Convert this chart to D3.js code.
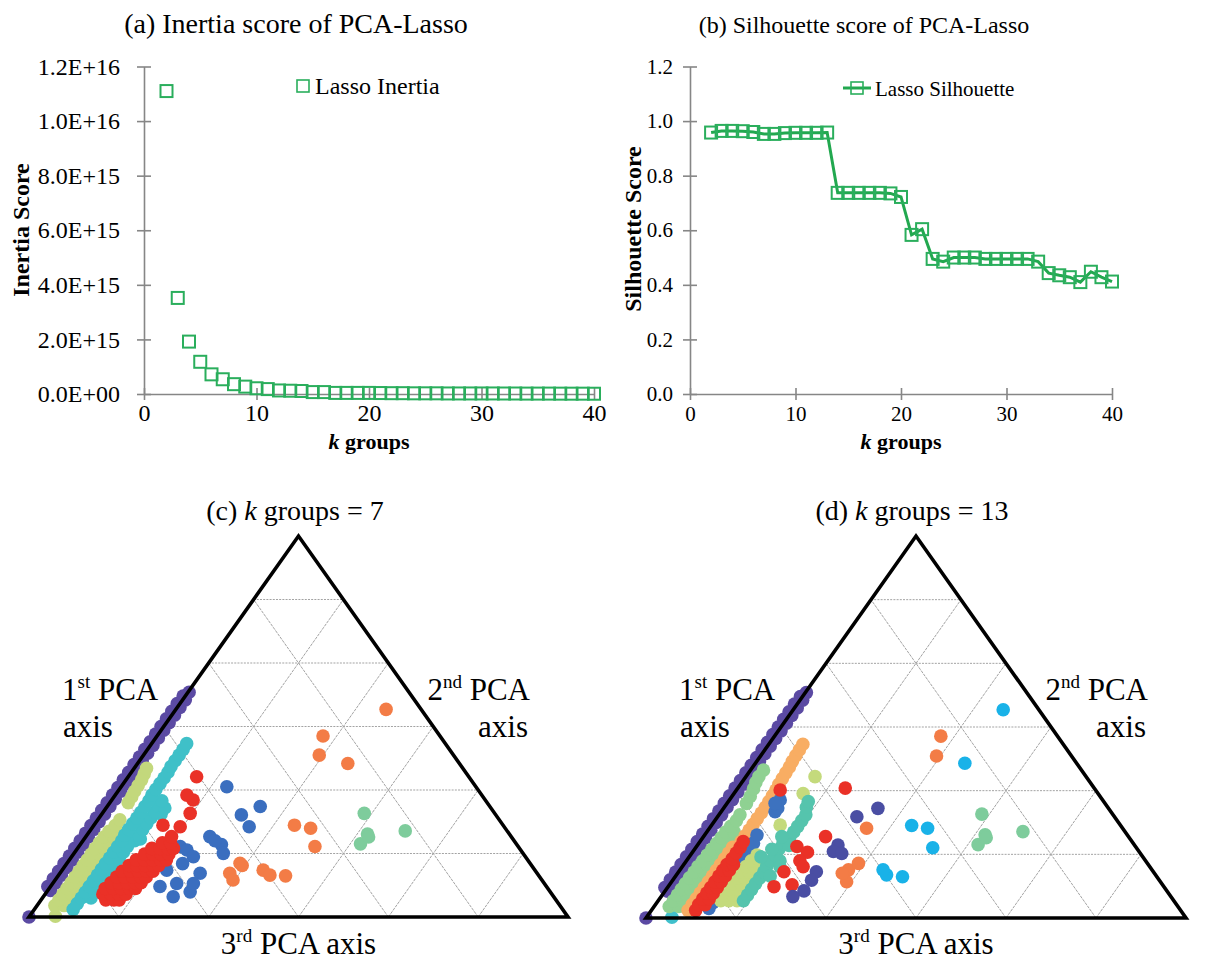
<!DOCTYPE html>
<html>
<head>
<meta charset="utf-8">
<script src="https://cdn.jsdelivr.net/npm/d3@7"></script>
<style>
  body { margin: 0; background: #fff; }
  svg { display: block; }
</style>
</head>
<body>
<svg id="fig" width="1223" height="963"></svg>
<script>
// ---- data: elbow / silhouette curves ----
const kGroups = [2,3,4,5,6,7,8,9,10,11,12,13,14,15,16,17,18,19,20,21,22,23,24,25,26,27,28,29,30,31,32,33,34,35,36,37,38,39,40];
const inertia = [1.11e16,3.52e15,1.92e15,1.18e15,7.2e14,5.4e14,3.6e14,2.7e14,2.1e14,1.8e14,1.3e14,1.2e14,1.1e14,7e13,7e13,4e13,4e13,4e13,4e13,3.5e13,3e13,3e13,2.5e13,2.5e13,2.5e13,2e13,2e13,2e13,2e13,2e13,1.8e13,1.8e13,1.5e13,1.5e13,1.5e13,1.3e13,1.2e13,1.2e13,1e13];
const silhouette = [0.958,0.964,0.964,0.963,0.96,0.953,0.953,0.956,0.957,0.957,0.957,0.958,0.737,0.737,0.737,0.737,0.737,0.735,0.722,0.583,0.604,0.495,0.485,0.5,0.5,0.5,0.495,0.495,0.495,0.495,0.495,0.485,0.443,0.435,0.428,0.41,0.448,0.428,0.412];
const kTicks = [0,10,20,30,40];
const inertiaTicks = [0,2e15,4e15,6e15,8e15,1e16,1.2e16];
const silTicks = [0,0.2,0.4,0.6,0.8,1.0,1.2];

// ---- data: ternary clusters, [3rd-axis %, apex %] (remaining share = 1st axis) ----
const ternaryGrid = [100/6, 200/6, 300/6, 400/6, 500/6];
const edgeCluster = [[0,0],[0.5,7],[-0.5,8],[0.5,9],[-0.5,10],[0.5,11],[-0.5,12],[0.5,13],[-0.5,14],[0.5,15],[-0.5,16],[0.5,17],[-0.5,18],[0.5,19],[-0.5,20],[0.5,21],[-0.5,22],[0.5,23],[-0.5,24],[0.5,25],[-0.5,26],[0.5,27],[-0.5,28],[0.5,29],[-0.5,30],[0.5,31],[-0.5,32],[0.5,33],[-0.5,34],[0.5,35],[-0.5,36],[0.5,37],[-0.5,38],[0.5,39],[-0.5,40],[0.5,41],[-0.5,42],[0.5,43],[-0.5,44],[0.5,45],[-0.5,46],[0.5,47],[-0.5,48],[0.5,49],[-0.5,50],[0.5,51],[-0.5,52],[0.5,53],[-0.5,54],[0.5,55],[-0.5,56],[0.5,57],[-0.4,58],[0.2,59]];

const c7Lime = [[4.8,0.2],[3.3,3],[5.0,3],[3.3,4.5],[5.0,4.5],[3.3,6],[5.0,6],[3.3,7.5],[5.0,7.5],[3.3,9],[5.0,9],[3.3,10.5],[5.0,10.5],[3.3,12],[5.0,12],[3.3,13.5],[5.0,13.5],[3.3,15],[5.0,15],[3.3,16.5],[5.0,16.5],[3.3,18],[5.0,18],[3.3,19.5],[5.0,19.5],[3.4,21],[5.2,21],[3.6,22.5],[5.2,22.5],[4.0,24],[4.1,25.5],[3.4,30],[3.3,31.5],[3.1,33],[3.0,34.5],[2.9,36],[2.6,37.5],[2.3,39]];
const c7Cyan = [[7.2,2],[7.2,3.5],[7.2,5],[9.0,5],[7.2,6.5],[9.0,6.5],[7.2,8],[9.0,8],[7.2,9.5],[9.0,9.5],[7.2,11],[9.0,11],[7.2,12.5],[9.0,12.5],[7.2,14],[9.0,14],[7.2,15.5],[9.0,15.5],[7.2,17],[9.0,17],[7.2,18.5],[9.0,18.5],[7.2,20],[9.6,20],[10.4,20.5],[7.0,21.5],[9.6,21.5],[7.0,23],[9.6,23],[7.0,24.5],[9.6,24.5],[7.0,26],[9.6,26],[11.0,27],[7.0,27.5],[9.6,27.5],[7.0,29],[9.6,29],[10.9,28.6],[7.0,30.5],[9.4,30.5],[6.8,32],[6.8,33.5],[6.8,35],[6.8,36.5],[6.8,38],[6.6,39.5],[6.6,41],[6.6,42.5],[6.6,44],[6.5,45.5]];
const c7Blue = [[19.6,34.2],[28.4,29],[26,26.8],[29,23.7],[23,21.1],[26.2,19],[27.7,16.7],[18.8,18.5],[20.5,17.6],[22.6,15.8],[26,11.5],[23,8.8],[26.6,6.6],[24.1,5.3],[20.3,8],[19.4,12.3],[26.1,8.8],[24.5,20],[21.5,14]];
const c7Red = [[12,4.5],[13.5,4.5],[14.5,4.5],[10.7,6],[12.2,6],[13.7,6],[15,6],[10.4,7.5],[11.9,7.5],[13.4,7.5],[14.9,7.5],[16,7.5],[10.7,9],[12.2,9],[13.7,9],[15.2,9],[16.3,9],[11,10.5],[12.5,10.5],[14,10.5],[15.5,10.5],[16.5,10.5],[11.3,12],[12.8,12],[14.3,12],[15.8,12],[17,12],[11.8,13.5],[13.3,13.5],[14.8,13.5],[16.3,13.5],[17.3,13.5],[12.4,15],[13.9,15],[15.4,15],[16.9,15],[18,15],[13.2,16.5],[14.7,16.5],[16.2,16.5],[17.7,16.5],[13.8,18],[15.3,18],[16.8,18],[17.8,18],[15,19.5],[16.5,19.5],[15.9,21.1],[12.8,24.1],[16.2,23.7],[16.3,27.2],[15.1,30.7],[13.3,32],[12.7,36.8]];
const c7Orange = [[39,54.5],[30.8,47.5],[32.6,42.5],[39,40.3],[37.2,24.1],[40.6,23.3],[43.8,18.5],[42.2,10.8],[31.5,11.5],[32.1,14.1],[33,9.7],[37.3,12.3],[39.2,11],[32.8,13.5]];
const c7Green = [[48.6,27.2],[51.9,21.8],[51.9,19.2],[58.5,22.6],[52.5,21]];

const c13Cyan = [[4.7,0.2],[4.4,3.8]];
const c13Mint = [[2.8,3],[4.6,3],[2.8,4.5],[4.6,4.5],[2.8,6],[4.6,6],[2.8,7.5],[4.6,7.5],[2.8,9],[4.6,9],[2.8,10.5],[4.6,10.5],[2.9,12],[4.7,12],[2.9,13.5],[4.8,13.5],[3.0,15],[4.9,15],[3.1,16.5],[5.0,16.5],[3.2,18],[5.1,18],[3.3,19.5],[5.2,19.5],[3.4,21],[5.2,21],[3.5,22.5],[5.1,22.5],[3.7,24],[4.0,25.5],[3.9,27],[3.6,30],[3.4,31.8],[3.0,33.8],[2.6,35.5],[2.4,37],[2.4,38.7]];
const c13Peach = [[6.8,2],[6.8,3.5],[6.8,5],[6.8,6.5],[6.8,8],[6.8,9.5],[6.8,11],[6.8,12.5],[6.8,14],[6.8,15.5],[6.8,17],[6.8,18.5],[7.6,20],[7.6,21.5],[7.6,23],[7.6,24.5],[7.6,26],[7.6,27.5],[7.6,29],[7.5,30.5],[7.4,32],[7.3,33.5],[7.1,35],[7.0,36.5],[6.9,38],[6.8,39.5],[6.6,41],[6.5,42.5],[6.4,44],[6.3,45.5]];
const c13Blue = [[10.4,2.5],[10.4,4],[10.5,5.5],[10.6,14],[10.6,15.5],[10.7,17],[10.1,19.6],[9.7,21.7],[10,27.8],[10,28.8],[9.4,30.9],[8.9,30]];
const c13Lime = [[11.6,4.5],[13.1,4.5],[14.6,4.5],[11.6,6],[13.1,6],[14.6,6],[11.6,7.5],[13.1,7.5],[14.6,7.5],[11.6,9],[13.1,9],[14.6,9],[11.6,10.5],[13.1,10.5],[14.6,10.5],[11.6,12],[13.1,12],[14.6,12],[11.8,13.5],[13.3,13.5],[12,15],[13.5,15],[12.3,16.5],[12.7,24.3],[12.8,32.6],[12.8,37]];
const c13Teal = [[15.8,4.5],[15.8,6],[15.8,7.5],[15.8,9],[15.8,10.5],[15.8,12],[15.6,13.5],[15.6,15],[15.6,16.5],[15.6,18],[15.6,19.5],[16.1,21],[16.1,22.5],[16.1,24],[16.1,25.5],[16.1,27],[15.2,29],[14.8,30.5],[13.3,16],[17.3,15],[18.1,13.4],[17.5,11],[14.3,18],[17,19],[14.5,21.3]];
const c13Red = [[8.2,2],[8.0,3.5],[9.2,3.5],[8.0,5],[9.2,5],[8.0,6.5],[9.2,6.5],[8.0,8],[9.2,8],[8.0,9.5],[9.2,9.5],[8.0,11],[9.2,11],[8.0,12.5],[9.2,12.5],[8.0,14],[9.2,14],[8.2,15.5],[8.2,17],[8.2,18.5],[8.0,20],[8.1,33.5],[19.9,34],[22.6,21.3],[18.6,18.7],[21.3,17.2],[21,15],[22.4,13.4],[19.5,12.1],[19.6,8.2],[22.7,8.7]];
const c13Navy = [[25.8,26.5],[28.6,28.7],[26,19.1],[26,17.4],[27.8,16.9],[25.5,12.1],[25.7,9.9],[25.7,7.1],[24.4,5.6]];
const c13Orange = [[30.8,47.6],[32.6,42.4],[29.1,23.5],[31.2,12.6],[32.2,14.3],[32.4,9.5],[30.5,11.7]];
const c13Sky = [[38.9,54.5],[38.8,40.5],[37.1,24.2],[40.4,23.5],[43.9,18.4],[38.9,11.3],[42.1,10.8],[37.6,12.6]];
const c13Green = [[48.6,27.2],[51.9,21.8],[51.9,19.2],[58.5,22.6],[52.5,21]];

const SERIF = "'Liberation Serif','Times New Roman',serif";
const AXIS = "#868686";
const GREEN = "#2aae5c";

const svg = d3.select("#fig");
svg.append("rect").attr("width", 1223).attr("height", 963).attr("fill", "#fff");

function sciFormat(v) {
    if (v === 0) return "0.0E+00";
    const parts = d3.format(".1e")(v).split("e");
    const n = +parts[1];
    return parts[0] + "E" + (n < 0 ? "-" : "+") + String(Math.abs(n)).padStart(2, "0");
}

function addText(g, x, y, size, str) {
    return g.append("text").attr("x", x).attr("y", y)
        .attr("font-family", SERIF).attr("font-size", size).attr("fill", "#000").text(str);
}

/*
*   Draws one k-groups panel (axes, marks, legend, labels)
*/
function drawScorePanel(o) {
    const g = svg.append("g");
    const x = d3.scaleLinear().domain([0, 40]).range(o.xRange);
    const y = d3.scaleLinear().domain([0, o.yMax]).range([394, 66.5]);

    const yAxis = g.append("g").attr("transform", `translate(${o.xRange[0]},0)`)
        .call(d3.axisLeft(y).tickValues(o.yTicks).tickFormat(o.yFormat).tickSizeInner(7).tickSizeOuter(0).tickPadding(o.yPad));
    const xAxis = g.append("g").attr("transform", "translate(0,394)")
        .call(d3.axisBottom(x).tickValues(kTicks).tickSizeInner(6).tickSizeOuter(0).tickPadding(o.xPad));

    [yAxis, xAxis].forEach(a => {
        a.select(".domain").attr("stroke", AXIS).attr("stroke-width", 1.6);
        a.selectAll(".tick line").attr("stroke", AXIS).attr("stroke-width", 1.6);
        a.selectAll(".tick text").attr("font-family", SERIF).attr("font-size", o.tickSize).attr("fill", "#000");
    });
    yAxis.selectAll(".tick line").attr("x1", 7);   // ticks cross the axis
    xAxis.selectAll(".tick line").attr("y1", -6);

    const pts = kGroups.map((k, i) => [k, o.values[i]]);

    if (o.line) {
        g.append("path").datum(pts)
            .attr("d", d3.line().x(d => x(d[0])).y(d => y(d[1])))
            .attr("fill", "none").attr("stroke", "#22a84f").attr("stroke-width", 3);
    }
    g.append("g").selectAll("rect").data(pts).join("rect")
        .attr("x", d => x(d[0]) - 6).attr("y", d => y(d[1]) - 6)
        .attr("width", 12).attr("height", 12)
        .attr("fill", "none").attr("stroke", GREEN).attr("stroke-width", 2);

    // legend
    if (o.line) {
        g.append("line").attr("x1", o.legendX - 14).attr("x2", o.legendX + 14)
            .attr("y1", o.legendY).attr("y2", o.legendY)
            .attr("stroke", "#22a84f").attr("stroke-width", 3);
    }
    g.append("rect").attr("x", o.legendX - 6).attr("y", o.legendY - 6).attr("width", 12).attr("height", 12)
        .attr("fill", "none").attr("stroke", GREEN).attr("stroke-width", 1.6);
    addText(g, o.legendTextX, o.legendY + 8, o.tickSize, o.legend);

    // title and axis titles
    addText(g, o.titleX, 33, o.titleSize, o.title).attr("text-anchor", "middle");
    g.append("text")
        .attr("transform", `translate(${o.yLabelX},${o.yLabelY}) rotate(-90)`)
        .attr("text-anchor", "middle").attr("font-family", SERIF).attr("font-size", 24)
        .attr("font-weight", "bold").text(o.yLabel);
    const xl = g.append("text").attr("x", (o.xRange[0] + o.xRange[1]) / 2).attr("y", 449)
        .attr("text-anchor", "middle").attr("font-family", SERIF).attr("font-size", o.xLabelSize).attr("font-weight", "bold");
    xl.append("tspan").attr("font-style", "italic").text("k");
    xl.append("tspan").text(" groups");
}

drawScorePanel({
    xRange: [144, 594], yMax: 1.2e16, yTicks: inertiaTicks, yFormat: sciFormat, yPad: 17, tickSize: 24, xPad: 4,
    values: inertia, line: false,
    legend: "Lasso Inertia", legendX: 303, legendY: 86, legendTextX: 315,
    title: "(a) Inertia score of PCA-Lasso", titleX: 296, titleSize: 28,
    yLabel: "Inertia Score", yLabelX: 29, yLabelY: 230, xLabelSize: 22
});

drawScorePanel({
    xRange: [690, 1112], yMax: 1.2, yTicks: silTicks, yFormat: d3.format(".1f"), yPad: 10, tickSize: 21, xPad: 6,
    values: silhouette, line: true,
    legend: "Lasso Silhouette", legendX: 857, legendY: 88, legendTextX: 875,
    title: "(b) Silhouette score of PCA-Lasso", titleX: 864, titleSize: 24,
    yLabel: "Silhouette Score", yLabelX: 641, yLabelY: 229, xLabelSize: 22
});

/*
*   Ternary panels
*/
function pcaLabel(g, x, y, num, sup, rest, anchor) {
    const t = g.append("text").attr("x", x).attr("y", y).attr("text-anchor", anchor)
        .attr("font-family", SERIF).attr("font-size", 31).attr("fill", "#000");
    t.append("tspan").text(num);
    t.append("tspan").attr("font-size", 19).attr("dy", -12).text(sup);
    t.append("tspan").attr("dy", 12).text(rest);
}

function drawTernary(o) {
    const g = svg.append("g");
    const xs = d3.scaleLinear().domain([0, 100]).range([o.bl[0], o.br[0]]);
    const ys = d3.scaleLinear().domain([0, 100]).range([o.bl[1], o.apexY]);
    const px = d => xs(d[0] + d[1] / 2);
    const py = d => ys(d[1]);

    const seg = (a, b, dash) => g.append("line")
        .attr("x1", px(a)).attr("y1", py(a)).attr("x2", px(b)).attr("y2", py(b))
        .attr("stroke", "#a3a3a3").attr("stroke-width", 1).attr("stroke-dasharray", dash);
    ternaryGrid.forEach(v => {
        seg([0, v], [100 - v, v], "2,1.2");
        seg([v, 0], [v, 100 - v], "3,1");
        seg([v, 0], [0, v], "3,1");
    });

    o.clusters.forEach(c => {
        g.append("g").selectAll("circle").data(c.points).join("circle")
            .attr("cx", px).attr("cy", py).attr("r", 6.8).attr("fill", c.color);
    });

    g.append("path")
        .attr("d", d3.line().x(px).y(py)([[0, 0], [100, 0], [0, 100]]) + "Z")
        .attr("fill", "none").attr("stroke", "#000").attr("stroke-width", 3.6);

    const title = g.append("text").attr("x", o.titleX).attr("y", 520).attr("text-anchor", "middle")
        .attr("font-family", SERIF).attr("font-size", 28).attr("fill", "#000");
    title.append("tspan").text(o.titlePrefix + " ");
    title.append("tspan").attr("font-style", "italic").text("k");
    title.append("tspan").text(" groups = " + o.k);

    const midX = (o.bl[0] + o.br[0]) / 2;
    pcaLabel(g, o.bl[0] + 33, 700, "1", "st", " PCA", "start");
    addText(g, o.bl[0] + 34, 737, 31, "axis");
    pcaLabel(g, o.br[0] - 38, 700, "2", "nd", " PCA", "end");
    addText(g, o.br[0] - 40, 737, 31, "axis").attr("text-anchor", "end");
    pcaLabel(g, midX, 954, "3", "rd", " PCA axis", "middle");
}

drawTernary({
    bl: [29, 917], br: [568, 917], apexY: 536, titleX: 295, titlePrefix: "(c)", k: 7,
    clusters: [
        { points: edgeCluster, color: "#5b4aa3" },
        { points: c7Lime, color: "#c3d87c" },
        { points: c7Cyan, color: "#3fc0c8" },
        { points: c7Blue, color: "#3a6ebf" },
        { points: c7Red, color: "#ea3127" },
        { points: c7Orange, color: "#f37c46" },
        { points: c7Green, color: "#7ecc9c" }
    ]
});

drawTernary({
    bl: [646, 918], br: [1186, 918], apexY: 536, titleX: 912, titlePrefix: "(d)", k: 13,
    clusters: [
        { points: edgeCluster, color: "#5b4aa3" },
        { points: c13Cyan, color: "#40c0cc" },
        { points: c13Mint, color: "#8fd192" },
        { points: c13Peach, color: "#f8ad63" },
        { points: c13Blue, color: "#3d72bf" },
        { points: c13Lime, color: "#c4da7c" },
        { points: c13Teal, color: "#55c4ad" },
        { points: c13Red, color: "#ea3127" },
        { points: c13Navy, color: "#4a4ea3" },
        { points: c13Orange, color: "#f37c46" },
        { points: c13Sky, color: "#19b2e8" },
        { points: c13Green, color: "#7ecc9c" }
    ]
});
</script>
</body>
</html>
